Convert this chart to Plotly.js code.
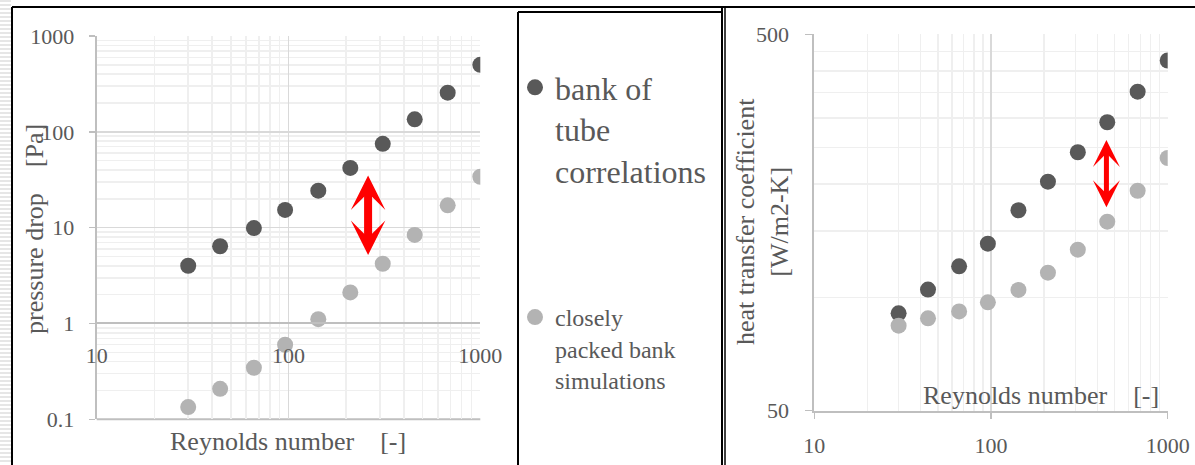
<!DOCTYPE html>
<html>
<head>
<meta charset="utf-8">
<script src="https://cdn.plot.ly/plotly-3.0.1.min.js"></script>
<style>html,body{margin:0;padding:0;background:#fff;}#chart{width:1195px;height:465px;}</style>
</head>
<body>
<div id="chart"></div>
<script>
// ---- data ----
const reynolds = [30, 44, 66, 96, 143, 210, 310, 455, 676, 1000];
const dpCorrelation = [4.0, 6.4, 9.9, 15.3, 24.3, 42, 75, 135, 256, 500];
const dpSimulation = [0.134, 0.208, 0.345, 0.60, 1.11, 2.11, 4.2, 8.4, 17.1, 34];
const htcCorrelation = [90.7, 104.9, 120.9, 138.9, 170.4, 203, 243, 292, 352, 426];
const htcSimulation = [84.1, 88.0, 91.8, 97.0, 104.7, 116.3, 133.9, 158.9, 192, 234.6];

const seriesNames = ['bank of<br>tube<br>correlations', 'closely<br>packed bank<br>simulations'];
const reTicks = [10, 100, 1000];
const reTickText = ['10', '100', '1000'];
const dpTicks = [0.1, 1, 10, 100, 1000];
const dpTickText = ['0.1', '1', '10', '100', '1000'];
const htcTicks = [50, 500];
const htcTickText = ['50', '500'];

// gap arrows (Re, upper value, lower value)
const dpArrow = {re: 260, top: 35, bottom: 5};
const htcArrow = {re: 450, top: 262, bottom: 172};

// ---- styling ----
const W = 1195, H = 465;
const FONT = '"Liberation Serif", serif';
const TXT = '#595959';
const DARK = '#595959';
const LIGHT = '#b3b3b3';
const AXIS = '#bfbfbf';
const GRID = '#d9d9d9';
const MINOR = '#efefef';
const px = v => v / W;
const py = v => 1 - v / H;
const L = Math.log10;

const dom1x = [px(96.7), px(480.3)];
const dom1y = [py(419.3), py(36)];
const dom2x = [px(814.3), px(1167.7)];
const dom2y = [py(410.7), py(34.3)];
const y1Range = [L(dpTicks[0]), L(dpTicks[dpTicks.length - 1])];
// x axis of the left chart crosses at pressure drop = 1
const crossFrac = (L(1) - y1Range[0]) / (y1Range[1] - y1Range[0]);
const xPos1 = dom1y[0] + crossFrac * (dom1y[1] - dom1y[0]);

const traces = [
  {x: reynolds, y: dpCorrelation, type: 'scatter', mode: 'markers', name: seriesNames[0],
   marker: {color: DARK, size: 16}, xaxis: 'x', yaxis: 'y', legend: 'legend'},
  {x: reynolds, y: dpSimulation, type: 'scatter', mode: 'markers', name: seriesNames[1],
   marker: {color: LIGHT, size: 16}, xaxis: 'x', yaxis: 'y', legend: 'legend2'},
  {x: reynolds, y: htcCorrelation, type: 'scatter', mode: 'markers', name: seriesNames[0],
   marker: {color: DARK, size: 16}, xaxis: 'x2', yaxis: 'y2', showlegend: false},
  {x: reynolds, y: htcSimulation, type: 'scatter', mode: 'markers', name: seriesNames[1],
   marker: {color: LIGHT, size: 16}, xaxis: 'x2', yaxis: 'y2', showlegend: false}
];

const tickFont = {family: FONT, size: 22, color: TXT};
const titleFont = {family: FONT, size: 26, color: TXT};

function arrowAnn(a, xr, yr, w, s) {
  return {xref: xr, yref: yr, axref: xr, ayref: yr,
    x: L(a.re), y: L(a.top), ax: L(a.re), ay: L(a.bottom),
    text: '', showarrow: true, arrowside: 'end+start',
    arrowhead: 3, startarrowhead: 3, arrowsize: s, startarrowsize: s,
    arrowwidth: w, arrowcolor: '#ff0000', standoff: 0, startstandoff: 0};
}

const shapes = [];
// left-edge hatching
for (let y = 1; y < H; y += 4) {
  shapes.push({type: 'line', xref: 'paper', yref: 'paper', x0: 0, x1: px(11), y0: py(y), y1: py(y),
    line: {color: '#e6e6e6', width: 2}, layer: 'below'});
}
const frame = (x0, y0, x1, y1, w) => ({type: 'line', xref: 'paper', yref: 'paper',
  x0: px(x0), y0: py(y0), x1: px(x1), y1: py(y1), line: {color: '#000', width: w}});
shapes.push(frame(12, 7, W, 7, 2));
shapes.push(frame(12, 7, 12, H, 2));
shapes.push(frame(518, 12, 722, 12, 2));
shapes.push(frame(518, 12, 518, H, 2));
shapes.push(frame(722, 7, 722, H, 2));
shapes.push(frame(725, 7, 725, H, 1.5));
// bottom border of the left plot area
shapes.push({type: 'line', xref: 'x domain', yref: 'y domain', x0: 0, x1: 1, y0: 0, y1: 0,
  line: {color: AXIS, width: 2}, layer: 'below'});

const layout = {
  width: W, height: H, autosize: false,
  margin: {l: 0, r: 0, t: 0, b: 0, pad: 0},
  paper_bgcolor: '#fff', plot_bgcolor: '#fff',
  font: {family: FONT, color: TXT},
  xaxis: {type: 'log', range: [1, 3], domain: dom1x, anchor: 'free', position: xPos1,
    tickmode: 'array', tickvals: reTicks, ticktext: reTickText, ticks: '', tickfont: tickFont,
    ticklabelstandoff: 12,
    showline: true, linecolor: AXIS, linewidth: 2, showgrid: true, gridcolor: GRID, gridwidth: 1.5,
    minor: {showgrid: true, dtick: 'D1', gridcolor: MINOR, gridwidth: 1.5}, zeroline: false},
  yaxis: {type: 'log', range: y1Range, domain: dom1y, anchor: 'x',
    tickmode: 'array', tickvals: dpTicks, ticktext: dpTickText, ticks: 'outside', ticklen: 6,
    tickcolor: AXIS, tickwidth: 1.5, tickfont: tickFont, ticklabelstandoff: 10,
    showline: true, linecolor: AXIS, linewidth: 2, showgrid: true, gridcolor: GRID, gridwidth: 1.5,
    minor: {showgrid: true, dtick: 'D1', gridcolor: MINOR, gridwidth: 1.5}, zeroline: false},
  xaxis2: {type: 'log', range: [1, 3], domain: dom2x, anchor: 'y2',
    tickmode: 'array', tickvals: reTicks, ticktext: reTickText, ticks: 'outside', ticklen: 6,
    tickcolor: AXIS, tickwidth: 1.5, tickfont: tickFont, ticklabelstandoff: 8,
    showline: true, linecolor: AXIS, linewidth: 2, showgrid: true, gridcolor: GRID, gridwidth: 1.5,
    minor: {showgrid: true, dtick: 'D1', gridcolor: MINOR, gridwidth: 1.5}, zeroline: false},
  yaxis2: {type: 'log', range: [L(htcTicks[0]), L(htcTicks[1])], domain: dom2y, anchor: 'x2',
    tickmode: 'array', tickvals: htcTicks, ticktext: htcTickText, ticks: 'outside', ticklen: 7,
    tickcolor: AXIS, tickwidth: 1.5, tickfont: tickFont, ticklabelstandoff: 12,
    showline: true, linecolor: AXIS, linewidth: 2, showgrid: true, gridcolor: GRID, gridwidth: 1.5,
    minor: {showgrid: true, dtick: 'L50', tick0: 0, gridcolor: MINOR, gridwidth: 1.5}, zeroline: false},
  legend: {x: px(515), y: py(60), xanchor: 'left', yanchor: 'top', valign: 'top',
    font: {family: FONT, size: 32, color: TXT}, bgcolor: 'rgba(0,0,0,0)', itemwidth: 30},
  legend2: {x: px(515), y: py(295), xanchor: 'left', yanchor: 'top', valign: 'top',
    font: {family: FONT, size: 24, color: TXT}, bgcolor: 'rgba(0,0,0,0)', itemwidth: 30},
  shapes: shapes,
  annotations: [
    {xref: 'paper', yref: 'paper', x: px(288), y: py(441), xanchor: 'center', yanchor: 'middle',
     text: 'Reynolds number\u00A0\u00A0\u00A0\u00A0[-]', showarrow: false, font: titleFont},
    {xref: 'paper', yref: 'paper', x: px(1041), y: py(395), xanchor: 'center', yanchor: 'middle',
     text: 'Reynolds number\u00A0\u00A0\u00A0\u00A0[-]', showarrow: false, font: titleFont},
    {xref: 'paper', yref: 'paper', x: px(35), y: py(229), xanchor: 'center', yanchor: 'middle',
     text: 'pressure drop\u00A0\u00A0\u00A0\u00A0[Pa]', textangle: -90, showarrow: false, font: titleFont},
    {xref: 'paper', yref: 'paper', x: px(762), y: py(222), xanchor: 'center', yanchor: 'middle',
     text: 'heat transfer coefficient<br>[W/m2-K]', textangle: -90, showarrow: false, font: titleFont},
    arrowAnn(dpArrow, 'x', 'y', 8, 0.72),
    arrowAnn(htcArrow, 'x2', 'y2', 5, 0.9)
  ]
};

Plotly.newPlot('chart', traces, layout, {displayModeBar: false, staticPlot: true});
</script>
</body>
</html>
